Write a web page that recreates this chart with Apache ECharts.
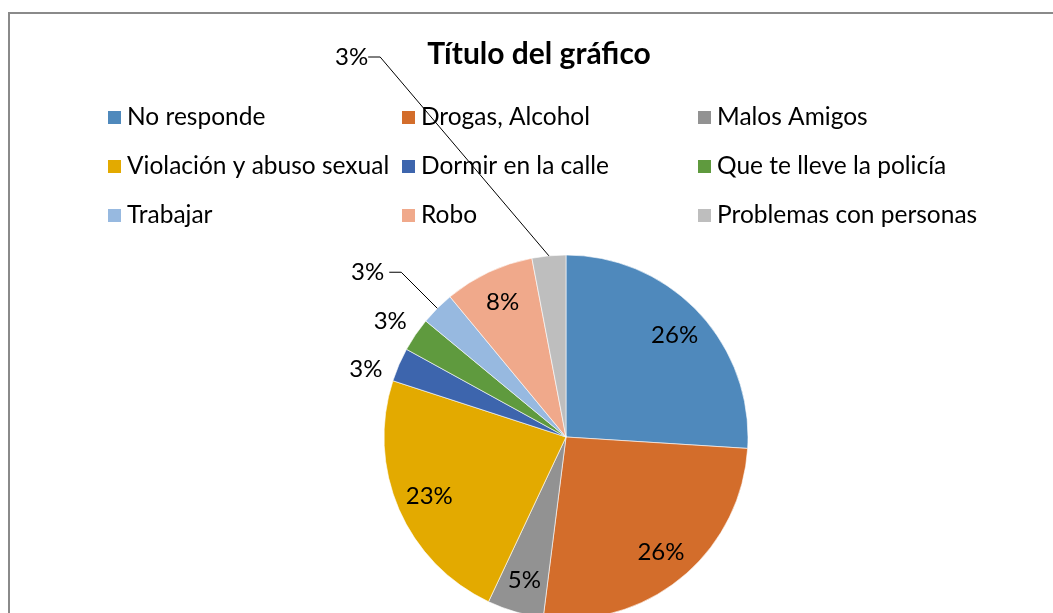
<!DOCTYPE html>
<html>
<head>
<meta charset="utf-8">
<title>Título del gráfico</title>
<script src="https://cdn.jsdelivr.net/npm/echarts@6/dist/echarts.min.js"></script>
<style>
  html, body { margin: 0; padding: 0; background: #fff; }
  #chart { width: 1053px; height: 613px; }
</style>
</head>
<body>
<div id="chart"></div>
<script>
// categorias y porcentajes
const categories = [
  'No responde', 'Drogas, Alcohol', 'Malos Amigos',
  'Violación y abuso sexual', 'Dormir en la calle', 'Que te lleve la policía',
  'Trabajar', 'Robo', 'Problemas con personas'
]
const values = [26, 26, 5, 23, 3, 3, 3, 8, 3]
const colors = ['#4F89BC', '#D36D2B', '#929292', '#E3AA00', '#3D65AD', '#5F9A3E', '#97B9E0', '#F0A98B', '#BEBEBE']
// rebanadas con etiqueta fuera del pastel
const outsideIdx = [4, 5, 6, 8]

const fontFamily = 'Lato, "Liberation Sans", sans-serif'
const chart = echarts.init(document.getElementById('chart'), null, { renderer: 'canvas' })

const pieData = categories.map((name, i) => ({
  name: name,
  value: values[i],
  itemStyle: { color: colors[i] }
}))

// etiquetas: dentro para las grandes, fuera para las chicas
const labelData = categories.map((name, i) => {
  const item = { name: name, value: values[i] }
  if (outsideIdx.indexOf(i) >= 0) {
    item.label = { position: 'outside' }
    if (i === 4) item.labelLine = { show: false, length: 6, length2: 4 }
    if (i === 5) item.labelLine = { show: false, length: 2, length2: 2 }
    if (i === 6) item.labelLine = { show: true, length: 51, length2: 12 }
    if (i === 8) item.labelLine = { show: true, length: 30, length2: 12 }
  }
  return item
})

function legendFor(names, left) {
  return {
    orient: 'vertical',
    left: left,
    top: 105,
    padding: 0,
    itemWidth: 15,
    itemHeight: 15,
    itemGap: 24,
    icon: 'rect',
    data: names,
    selectedMode: false,
    textStyle: { fontFamily: fontFamily, fontSize: 24.5, color: '#000' }
  }
}

chart.setOption({
  animation: false,
  title: {
    text: 'Título del gráfico',
    left: 539,
    top: 39,
    textAlign: 'center',
    padding: 0,
    textStyle: { fontFamily: fontFamily, fontSize: 30, fontWeight: 'bold', color: '#000' }
  },
  legend: [
    legendFor([categories[0], categories[3], categories[6]], 106),
    legendFor([categories[1], categories[4], categories[7]], 400),
    legendFor([categories[2], categories[5], categories[8]], 696)
  ],
  graphic: [{
    type: 'rect',
    silent: true,
    shape: { x: 9, y: 13, width: 1200, height: 800 },
    style: { fill: 'none', stroke: '#8a8a8a', lineWidth: 2 }
  }],
  series: [
    {
      type: 'pie',
      center: [566, 437],
      radius: [0, 182],
      startAngle: 90,
      clockwise: true,
      silent: true,
      label: { show: false },
      labelLine: { show: false },
      itemStyle: { borderColor: '#fff', borderWidth: 0.6 },
      data: pieData
    },
    {
      // serie transparente solo para ubicar los porcentajes
      type: 'pie',
      center: [566, 437],
      radius: [110, 182],
      startAngle: 90,
      clockwise: true,
      silent: true,
      z: 3,
      itemStyle: { color: 'rgba(0,0,0,0)' },
      label: {
        show: true,
        position: 'inside',
        formatter: '{d}%',
        fontFamily: fontFamily,
        fontSize: 24,
        color: '#000'
      },
      labelLine: { lineStyle: { color: '#000', width: 1 } },
      avoidLabelOverlap: false,
      labelLayout: function (params) {
        if (params.dataIndex === 8) {
          return { x: 335, y: 57, align: 'left', verticalAlign: 'middle' }
        }
        if (params.dataIndex === 5) return { dy: -12 }
        if (params.dataIndex === 4) return { dy: 7, dx: -2 }
      },
      data: labelData
    }
  ]
})
</script>
</body>
</html>
